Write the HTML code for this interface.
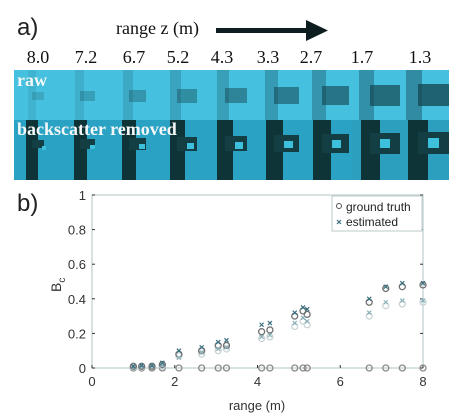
<!DOCTYPE html>
<html><head><meta charset="utf-8"><style>
body{margin:0;width:476px;height:419px;background:#fff;overflow:hidden;position:relative;font-family:"Liberation Sans",sans-serif}
.abs{position:absolute}
.serif{font-family:"Liberation Serif",serif}
.tile{position:absolute;height:110px;top:70px;width:49px;overflow:hidden}
</style></head><body>
<div class="abs" style="left:17px;top:14px;font-size:24px;color:#222">a)</div>
<div class="abs serif" style="left:116px;top:18px;font-size:18px;color:#111">range z (m)</div>
<svg class="abs" style="left:214px;top:18px" width="120" height="26"><rect x="2" y="10" width="92" height="5" fill="#0e1e20"/><polygon points="92,2 114,12.5 92,23" fill="#0e1e20"/></svg>
<div id="ranges" class="abs serif" style="left:0;top:47px;width:476px;height:22px;font-size:18px;color:#111"></div>
<div id="strip" class="abs" style="left:14px;top:0;width:435px;height:180px;overflow:hidden"></div>
<div class="abs serif" style="left:17px;top:70px;font-size:18px;font-weight:bold;color:#f4f8f8">raw</div>
<div class="abs serif" style="left:17px;top:119px;font-size:18px;font-weight:bold;color:#f4f8f8">backscatter removed</div>
<div class="abs" style="left:17px;top:190px;font-size:24px;color:#222">b)</div>
<svg id="chart" class="abs" style="left:0;top:0" width="476" height="419"></svg>
<script>
const rangeLabels=["8.0","7.2","6.7","5.2","4.3","3.3","2.7","1.7","1.3"];
const xs=[1.0,1.2,1.45,1.7,2.1,2.65,3.05,3.25,4.1,4.3,4.9,5.1,5.2,6.7,7.1,7.5,8.0];
const gtUpper=[0.01,0.01,0.01,0.02,0.08,0.10,0.13,0.13,0.21,0.22,0.30,0.33,0.31,0.38,0.46,0.47,0.48];
const gtLower=[0.005,0.005,0.01,0.01,0.07,0.08,0.10,0.11,0.17,0.18,0.24,0.27,0.25,0.30,0.36,0.37,0.38];
const estUpper=[0.01,0.015,0.015,0.03,0.10,0.12,0.15,0.16,0.25,0.26,0.32,0.35,0.34,0.40,0.47,0.49,0.49];
const estLower=[0.005,0.01,0.01,0.015,0.06,0.09,0.11,0.12,0.18,0.19,0.26,0.29,0.27,0.32,0.38,0.39,0.39];
const gtZero=[0,0,0,0,0,0,0,0,0,0,0,0,0,0,0,0,0];
const xTicks=[0,2,4,6,8];
const yTicks=[0,0.2,0.4,0.6,0.8,1];
const yTickLabels=["0","0.2","0.4","0.6","0.8","1"];
const X0=92,X1=423,Y0=368,Y1=195;
const sx=v=>X0+(v/8)*(X1-X0), sy=v=>Y0-(v)*(Y0-Y1);
const NS="http://www.w3.org/2000/svg";
const svg=document.getElementById('chart');
function el(t,a,p){const e=document.createElementNS(NS,t);for(const k in a)e.setAttribute(k,a[k]);(p||svg).appendChild(e);return e;}
const centers=[38,86,134,178,222,268,311,362,420];
const rl=document.getElementById('ranges');
rangeLabels.forEach((t,i)=>{const d=document.createElement('div');d.className='abs';d.style.left=(centers[i]-16)+'px';d.style.width='32px';d.style.textAlign='center';d.textContent=t;


rl.appendChild(d);});
const strip=document.getElementById('strip');
for(let i=0;i<9;i++){const t=document.createElement('div');t.className='tile';t.style.left=Math.round(i*48.3)+'px';


const sz=12+i*2.5;
t.innerHTML=`<div class="abs" style="left:0;top:0;width:49px;height:50px;background:#45c0de"></div>
<div class="abs" style="left:0;top:50px;width:49px;height:60px;background:${i<7?'#2aa2c4':'#2c9fbf'}"></div>
<div class="abs" style="left:${14-i}px;top:0;width:${8+i}px;height:50px;background:rgba(30,90,110,${0.12+i*0.05})"></div>
<div class="abs" style="left:${18}px;top:${22-i}px;width:${sz}px;height:${sz*0.7}px;background:rgba(20,70,80,${0.2+i*0.07})"></div>
<div class="abs" style="left:${12-i*0.5}px;top:50px;width:${12+i}px;height:60px;background:#0f3438"></div>
<div class="abs" style="left:${18}px;top:${70-i}px;width:${sz}px;height:${sz*0.7}px;background:#123e44"></div>
<div class="abs" style="left:${28}px;top:${76-i}px;width:${sz*0.35}px;height:${sz*0.3}px;background:#3cc0dc"></div>`;
strip.appendChild(t);}
el('rect',{x:X0,y:Y1,width:X1-X0,height:Y0-Y1,fill:'none',stroke:'#bfcfcf','stroke-width':1.2,});
xTicks.forEach(v=>{const x=sx(v);el('line',{x1:x,x2:x,y1:Y0,y2:Y0-3,stroke:'#333'});
const t=el('text',{x:x,y:Y0+18,'text-anchor':'middle','font-size':13,fill:'#333'});t.textContent=v;

});
yTicks.forEach((v,i)=>{const y=sy(v);el('line',{x1:X0,x2:X0+3,y1:y,y2:y,stroke:'#333'});el('line',{x1:X1,x2:X1-3,y1:y,y2:y,stroke:'#333'});
const t=el('text',{x:X0-6,y:y+5,'text-anchor':'end','font-size':13,fill:'#333'});t.textContent=yTickLabels[i];

});
const xt=el('text',{x:257,y:410,'text-anchor':'middle','font-size':13,fill:'#333'});xt.textContent='range (m)';


const yt=el('text',{transform:'translate(61,292) rotate(-90)','font-size':14,fill:'#333'});yt.innerHTML='B<tspan font-size="10" dy="4">c</tspan>';


function circles(arr,col,name){arr.forEach((v,i)=>{const c=el('circle',{cx:sx(xs[i]),cy:sy(v),r:3,fill:'none',stroke:col,'stroke-width':1.3});

});}
function crosses(arr,col,name){arr.forEach((v,i)=>{const x=sx(xs[i]),y=sy(v);const g=el('path',{d:`M${x-2},${y-2}L${x+2},${y+2}M${x-2},${y+2}L${x+2},${y-2}`,stroke:col,'stroke-width':1.2});

});}
circles(gtZero,'#8a8a8a','ground-truth-zero');
circles(gtLower,'#c8d4d6','ground-truth-lower');
circles(gtUpper,'#707070','ground-truth-upper');
crosses(estLower,'#8ab0b8','estimated-lower');
crosses(estUpper,'#3a6f80','estimated-upper');
el('rect',{x:332,y:196,width:90,height:35,fill:'#fff',stroke:'#c4d2d2','stroke-width':1.2,});
el('circle',{cx:339,cy:206,r:2.5,fill:'none',stroke:'#555'});
const l1=el('text',{x:346,y:211,'font-size':12,fill:'#222'});l1.textContent='ground truth';


el('path',{d:'M337,220L341,224M337,224L341,220',stroke:'#3a6f80','stroke-width':1.2});
const l2=el('text',{x:346,y:226,'font-size':12,fill:'#222'});l2.textContent='estimated';


</script>
</body></html>
